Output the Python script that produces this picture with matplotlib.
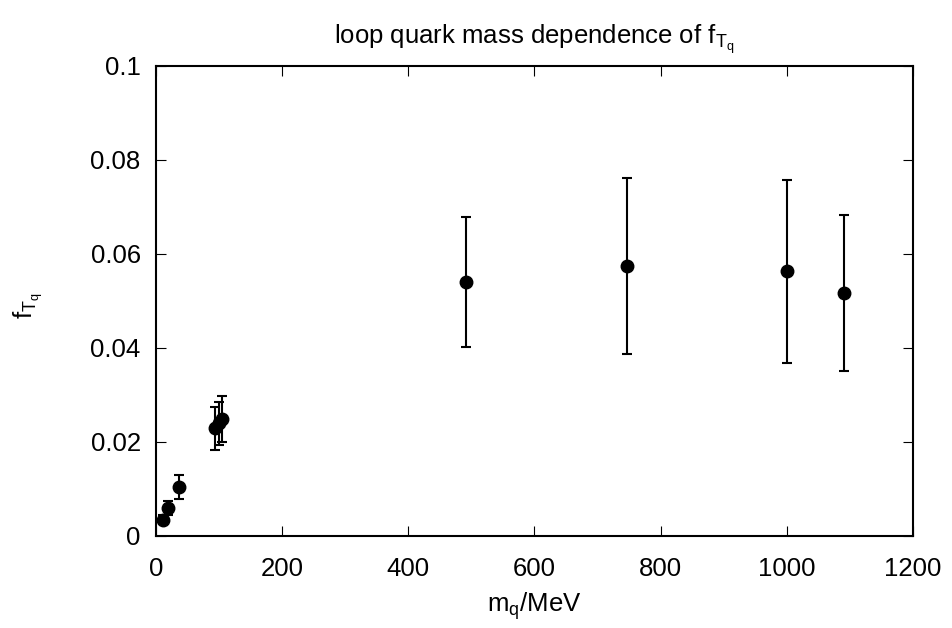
import matplotlib
matplotlib.use('Agg')
import matplotlib.pyplot as plt

plt.rcParams['font.family'] = ['Liberation Sans', 'DejaVu Sans']
plt.rcParams['mathtext.default'] = 'regular'

# quark mass (MeV), f_Tq and its error
mass = [11.5, 19.5, 36, 93, 100, 105, 492, 747, 1001, 1091]
f_tq = [0.0035, 0.0060, 0.0104, 0.0229, 0.0240, 0.0248, 0.0540, 0.0575, 0.0563, 0.0516]
f_err = [0.0010, 0.0015, 0.0025, 0.0045, 0.0046, 0.0049, 0.0138, 0.0187, 0.0195, 0.0166]

fig = plt.figure(figsize=(9.53, 6.28), dpi=100)
ax = fig.add_axes([0.1637, 0.1465, 0.7943, 0.7485])

ax.errorbar(mass, f_tq, yerr=f_err, fmt='o', color='black', markersize=9,
            capsize=3.5, elinewidth=1.5, capthick=1.5)

ax.set_xlim(0, 1200)
ax.set_ylim(0, 0.1)
ax.set_xticks([0, 200, 400, 600, 800, 1000, 1200])
ax.set_yticks([0, 0.02, 0.04, 0.06, 0.08, 0.1])
ax.set_yticklabels(['0', '0.02', '0.04', '0.06', '0.08', '0.1'])
ax.tick_params(direction='in', top=True, right=True, labelsize=18.5, length=7)
ax.tick_params(axis='x', pad=15)
ax.tick_params(axis='y', pad=11)
for s in ax.spines.values():
    s.set_linewidth(1.5)

ax.set_xlabel('m$_q$/MeV', fontsize=18.5, labelpad=7)
ax.set_ylabel('f$_{T_q}$', fontsize=18.5)
ax.yaxis.set_label_coords(-0.146, 0.49)
ax.set_title('loop quark mass dependence of f$_{T_q}$', fontsize=18.5, pad=16)

fig.savefig('out.png', dpi=100)
